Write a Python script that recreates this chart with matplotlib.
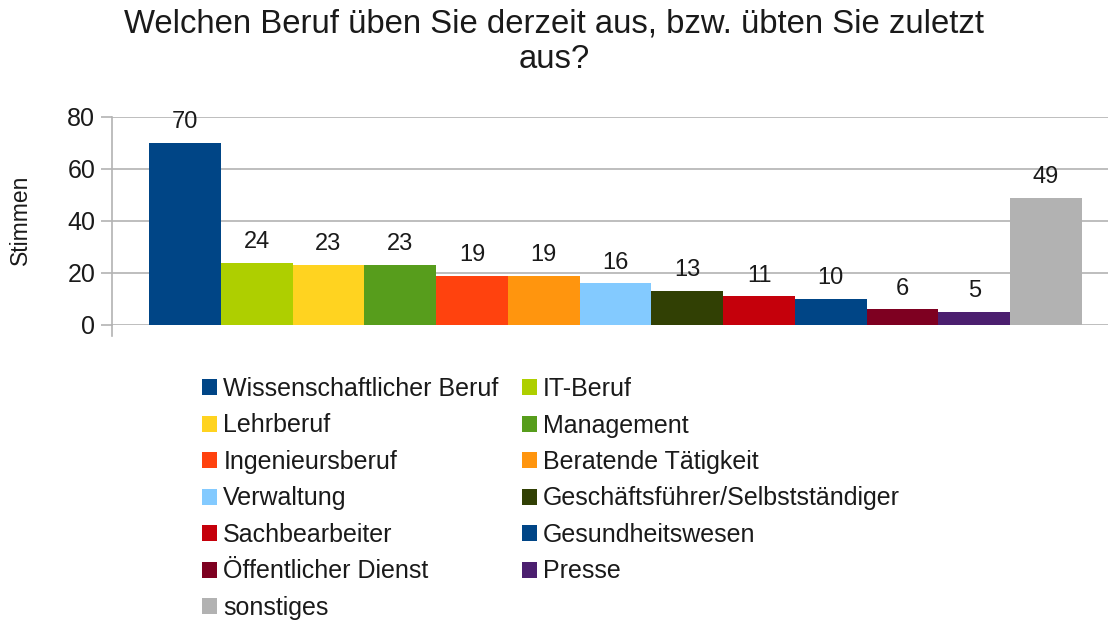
import matplotlib
matplotlib.use("Agg")
import matplotlib.pyplot as plt
from matplotlib.patches import Patch
from matplotlib.lines import Line2D

categories = ["Wissenschaftlicher Beruf", "IT-Beruf", "Lehrberuf", "Management",
              "Ingenieursberuf", "Beratende Tätigkeit", "Verwaltung",
              "Geschäftsführer/Selbstständiger", "Sachbearbeiter", "Gesundheitswesen",
              "Öffentlicher Dienst", "Presse", "sonstiges"]
values = [70, 24, 23, 23, 19, 19, 16, 13, 11, 10, 6, 5, 49]
colors = ["#004586", "#aecf00", "#ffd320", "#579d1c", "#ff420e", "#ff950e", "#83caff",
          "#314004", "#c5000b", "#004586", "#7e0021", "#4b1f6f", "#b2b2b2"]
yticks = [0, 20, 40, 60, 80]

plt.rcParams['font.family'] = ['Liberation Sans', 'DejaVu Sans']

W, H = 1112, 622
fig = plt.figure(figsize=(W / 100, H / 100), dpi=100)
ax = fig.add_axes([112 / W, 1 - 325 / H, (1108 - 112) / W, (325 - 117) / H])

x = list(range(len(values)))
bars = ax.bar(x, values, width=1.0, color=colors, zorder=3)
for xi, v in zip(x, values):
    ax.annotate(str(v), (xi, v), xytext=(0, 7), textcoords="offset points",
                ha="center", va="bottom", fontsize=17, color="#1a1a1a")

ax.set_ylim(0, 80)
ax.set_xlim(-0.5 - 37 / 71.7, 12.5 + 26 / 71.7)
ax.set_yticks(yticks)
ax.set_xticks([])
ax.grid(axis="y", color="#b3b3b3", linewidth=1.2, zorder=0)
for s in ["top", "right", "bottom"]:
    ax.spines[s].set_visible(False)
ax.spines["left"].set_color("#b3b3b3")
ax.spines["left"].set_linewidth(1.2)
ax.tick_params(axis="y", length=8, width=1.2, color="#b3b3b3", labelsize=18,
               labelcolor="#1a1a1a", pad=4)
ax.add_line(Line2D([0, 0], [0, -0.055], transform=ax.transAxes, color="#b3b3b3",
                   linewidth=1.2, clip_on=False))
fig.text(20 / W, 1 - 220 / H, "Stimmen", rotation=90, ha="center", va="center",
         fontsize=16.5, color="#1a1a1a")

fig.text(554 / W, 1 - 42 / H, "Welchen Beruf üben Sie derzeit aus, bzw. übten Sie zuletzt\naus?",
         ha="center", va="center", fontsize=23.7, color="#1a1a1a", linespacing=1.2)

handles = [Patch(facecolor=c, edgecolor="none") for c in colors]
order = list(range(0, 13, 2)) + list(range(1, 13, 2))
leg = fig.legend([handles[i] for i in order], [categories[i] for i in order],
                 ncol=2, loc="upper left", bbox_to_anchor=(202 / W, 1 - 377 / H),
                 frameon=False, fontsize=18, handlelength=0.6, handleheight=0.6,
                 handletextpad=0.25, columnspacing=0.92, labelspacing=0.5,
                 borderpad=0, borderaxespad=0)
for t in leg.get_texts():
    t.set_color("#1a1a1a")

fig.savefig("out.png", dpi=100, facecolor="white")
